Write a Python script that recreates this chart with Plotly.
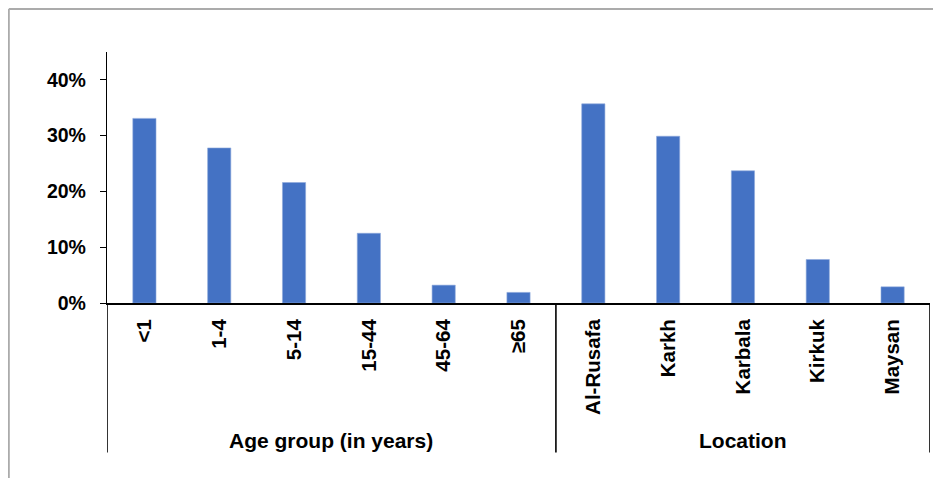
import plotly.graph_objects as go

age_groups = ["<1", "1-4", "5-14", "15-44", "45-64", "≥65"]
age_values = [0.331, 0.278, 0.216, 0.125, 0.032, 0.019]
locations = ["Al-Rusafa", "Karkh", "Karbala", "Kirkuk", "Maysan"]
location_values = [0.357, 0.299, 0.237, 0.078, 0.029]
group_titles = ["Age group (in years)", "Location"]
y_tickvals = [0, 0.1, 0.2, 0.3, 0.4]

categories = age_groups + locations
values = age_values + location_values

FONT = "Liberation Sans"
W, H = 925, 470
ml, mr, mt, mb = 99, 3, 44, 175.3
plot_h = H - mt - mb

def py(fig_y):
    return (H - mb - fig_y) / plot_h

fig = go.Figure()
fig.add_trace(go.Bar(
    x=categories, y=values, width=0.31,
    marker=dict(color="#4472C4", line=dict(color="#8FAADC", width=0.6)),
    showlegend=False, hoverinfo="x+y",
))

fig.update_layout(
    width=W, height=H,
    margin=dict(l=ml, r=mr, t=mt, b=mb, autoexpand=False),
    paper_bgcolor="white", plot_bgcolor="white",
    font=dict(family=FONT, color="black"),
    bargap=0.69,
)
fig.update_xaxes(
    type="category", categoryorder="array", categoryarray=categories,
    range=[-0.5, len(categories) - 0.5],
    showline=True, linecolor="black", linewidth=2,
    ticks="", tickangle=-90, showgrid=False, zeroline=False,
    tickfont=dict(family=FONT, size=20.5, weight="bold", color="black"),
    ticklabelstandoff=6,
)
fig.update_yaxes(
    range=[0, 0.45], tickvals=y_tickvals, tickformat=".0%",
    showline=True, linecolor="black", linewidth=1.3,
    ticks="outside", ticklen=6, tickwidth=1, tickcolor="black",
    showgrid=False, zeroline=False,
    tickfont=dict(family=FONT, size=19.5, weight="bold", color="black"),
    ticklabelstandoff=10,
)

# group divider lines
n_age = len(age_groups)
for xv in [-0.5, n_age - 0.5, len(categories) - 0.5]:
    fig.add_shape(type="line", xref="x", yref="paper", x0=xv, x1=xv,
                  y0=0, y1=py(444), line=dict(color="black", width=1.6))

# group titles
centers = [(n_age - 1) / 2, n_age + (len(locations) - 1) / 2]
for title, cx in zip(group_titles, centers):
    fig.add_annotation(text="<b>" + title + "</b>", x=cx, xref="x",
                       y=py(432), yref="paper", yanchor="middle",
                       showarrow=False,
                       font=dict(family=FONT, size=21, color="black"))

# chart border (top and left visible)
bx = (0.8 - ml) / (W - ml - mr)
fig.add_shape(type="line", xref="paper", yref="paper", x0=bx, x1=1.2,
              y0=py(1), y1=py(1), line=dict(color="#ABABAB", width=2))
fig.add_shape(type="line", xref="paper", yref="paper", x0=bx, x1=bx,
              y0=py(1), y1=py(H + 5), line=dict(color="#ABABAB", width=2))

fig.write_html("out.html")
